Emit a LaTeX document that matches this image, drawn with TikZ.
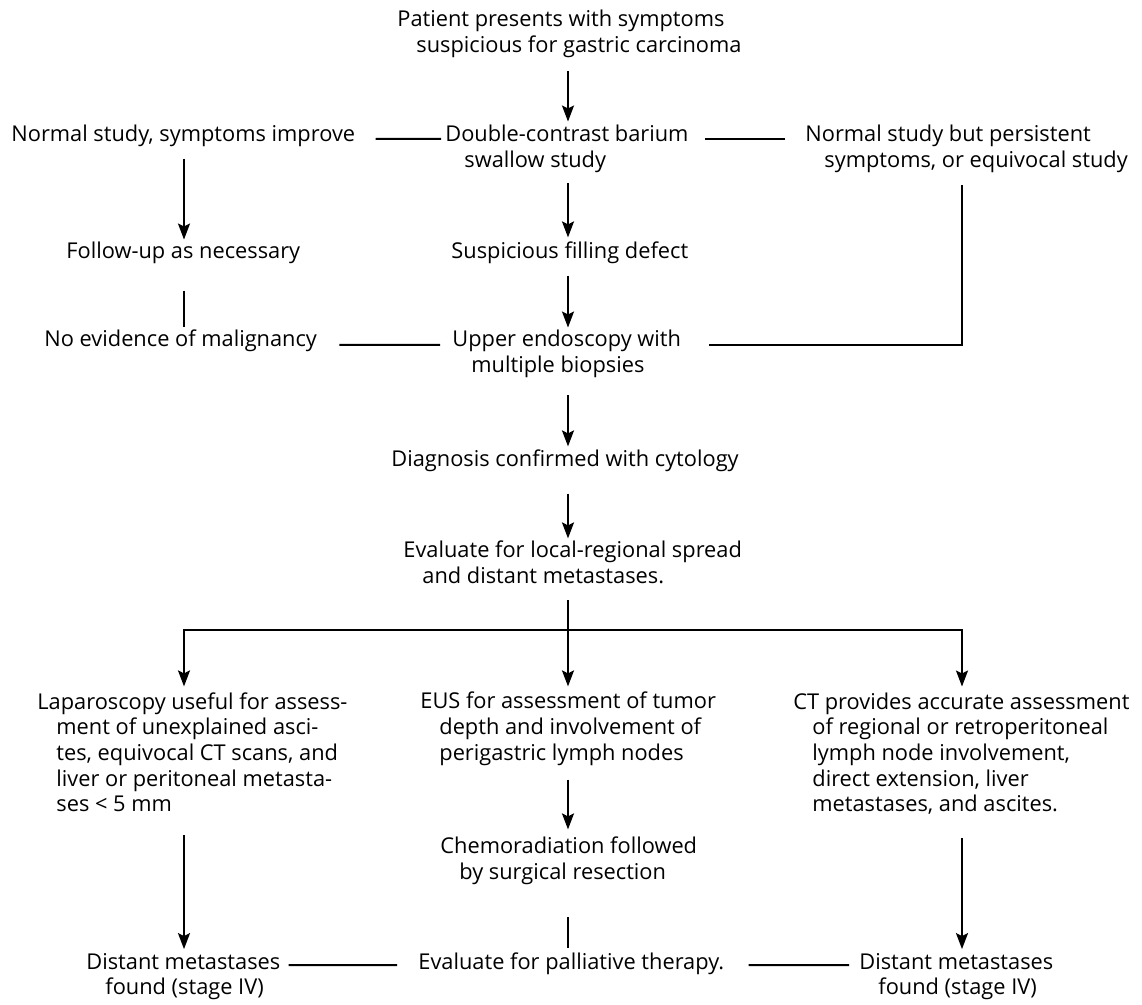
\documentclass[tikz,border=0pt]{standalone}
\usepackage{fontspec}
\setmainfont{Open Sans}
\usetikzlibrary{arrows.meta}
\newcommand{\indline}{\\\hspace*{9.5pt}}
\tikzset{
  flow text/.style={anchor=base west, align=left, inner sep=0pt, font=\fontsize{10.9pt}{12.85pt}\selectfont},
  flow line/.style={draw=black, line width=1pt},
  flow arrow/.style={flow line, -{Stealth[length=8pt, width=6pt, inset=1.5pt]}},
}

\begin{document}
\begin{tikzpicture}[x=0.5pt, y=-0.5pt]
  \fill[white] (0,0) rectangle (1142,1005);
  \useasboundingbox (0,0) rectangle (1142,1005);
  % columns the connectors run in
  \coordinate (spine) at (568,0);
  \coordinate (left col) at (184,0);
  \coordinate (right col) at (962,0);
  \coordinate (fork) at (568,630);

  % centre column (nodes sit on the baseline of their last line)
  \node[flow text] (patient) at (397,52.7) {Patient presents with symptoms\indline suspicious for gastric carcinoma};
  \node[flow text] (barium) at (445,167.7) {Double-contrast barium\indline swallow study};
  \node[flow text] (defect) at (451,259) {Suspicious filling defect};
  \node[flow text] (endo) at (452,372.7) {Upper endoscopy with\indline multiple biopsies};
  \node[flow text] (diag) at (391,467) {Diagnosis confirmed with cytology};
  \node[flow text] (spread) at (403,583.7) {Evaluate for local-regional spread\indline and distant metastases.};
  \node[flow text] (eus) at (420,760.4) {EUS for assessment of tumor\indline depth and involvement of\indline perigastric lymph nodes};
  \node[flow text] (chemo) at (440,879.7) {Chemoradiation followed\indline by surgical resection};
  \node[flow text] (palliative) at (418,969) {Evaluate for palliative therapy.};

  % left column
  \node[flow text] (normal) at (11,142) {Normal study, symptoms improve};
  \node[flow text] (followup) at (66,259) {Follow-up as necessary};
  \node[flow text] (noevid) at (44,347) {No evidence of malignancy};
  \node[flow text] (lap) at (37,811.8) {Laparoscopy useful for assess-\indline ment of unexplained asci-\indline tes, equivocal CT scans, and\indline liver or peritoneal metasta-\indline ses < 5 mm};
  \node[flow text] (dist left) at (86,994.7) {Distant metastases\indline found (stage IV)};

  % right column
  \node[flow text] (persist) at (805,167.7) {Normal study but persistent\indline symptoms, or equivocal study};
  \node[flow text] (ct) at (793,811.8) {CT provides accurate assessment\indline of regional or retroperitoneal\indline lymph node involvement,\indline direct extension, liver\indline metastases, and ascites.};
  \node[flow text] (dist right) at (859,994.7) {Distant metastases\indline found (stage IV)};

  % main line
  \draw[flow arrow, shorten <=6.5pt, shorten >=1.75pt] (spine |- patient.south) -- (spine |- barium.north);
  \draw[flow arrow, shorten <=5pt, shorten >=2.25pt] (spine |- barium.south) -- (spine |- defect.north);
  \draw[flow arrow, shorten <=5.5pt, shorten >=1.25pt] (spine |- defect.south) -- (spine |- endo.north);
  \draw[flow arrow, shorten <=8.5pt, shorten >=1.75pt] (spine |- endo.south) -- (spine |- diag.north);
  \draw[flow arrow, shorten <=10.5pt, shorten >=1.25pt] (spine |- diag.south) -- (spine |- spread.north);
  \draw[flow arrow, shorten <=8pt, shorten >=2.75pt] (spine |- spread.south) -- (spine |- eus.north);
  \draw[flow arrow, shorten >=2.75pt] (fork) -| (left col |- lap.north);
  \draw[flow arrow, shorten >=2.75pt] (fork) -| (right col |- ct.north);
  \draw[flow arrow, shorten <=6.8pt, shorten >=3.75pt] (spine |- eus.south) -- (spine |- chemo.north);
  \draw[flow line, shorten <=16pt, shorten >=1.75pt] (spine |- chemo.south) -- (spine |- palliative.north);

  % side branches
  \draw[flow line, shorten <=10pt, shorten >=2pt] ([yshift=1.5pt]normal.base east) -- ([yshift=14.35pt]barium.base west);
  \draw[flow line, shorten <=8pt, shorten >=10pt] ([yshift=14.35pt]barium.base east) -- ([yshift=14.35pt]persist.base west);
  \draw[flow arrow, shorten <=5.5pt, shorten >=1.25pt] (left col |- normal.south) -- (left col |- followup.north);
  \draw[flow line, shorten <=13pt, shorten >=1.25pt] (left col |- followup.south) -- (left col |- noevid.north);
  \draw[flow line, shorten <=11pt, shorten >=6pt] ([yshift=1pt]noevid.base east) -- ([yshift=13.85pt]endo.base west);
  \draw[flow line, shorten <=14pt, shorten >=6pt] ([yshift=13.85pt]endo.base east) -| (right col |- persist.south);
  \draw[flow arrow, shorten <=11.5pt, shorten >=1.75pt] (left col |- lap.south) -- (left col |- dist left.north);
  \draw[flow arrow, shorten <=11.5pt, shorten >=1.75pt] (right col |- ct.south) -- (right col |- dist right.north);
  \draw[flow line, shorten <=4pt, shorten >=10.5pt] ([yshift=14.85pt]dist left.base east) -- ([yshift=2pt]palliative.base west);
  \draw[flow line, shorten <=12pt, shorten >=5pt] ([yshift=2pt]palliative.base east) -- ([yshift=14.85pt]dist right.base west);
\end{tikzpicture}
\end{document}
